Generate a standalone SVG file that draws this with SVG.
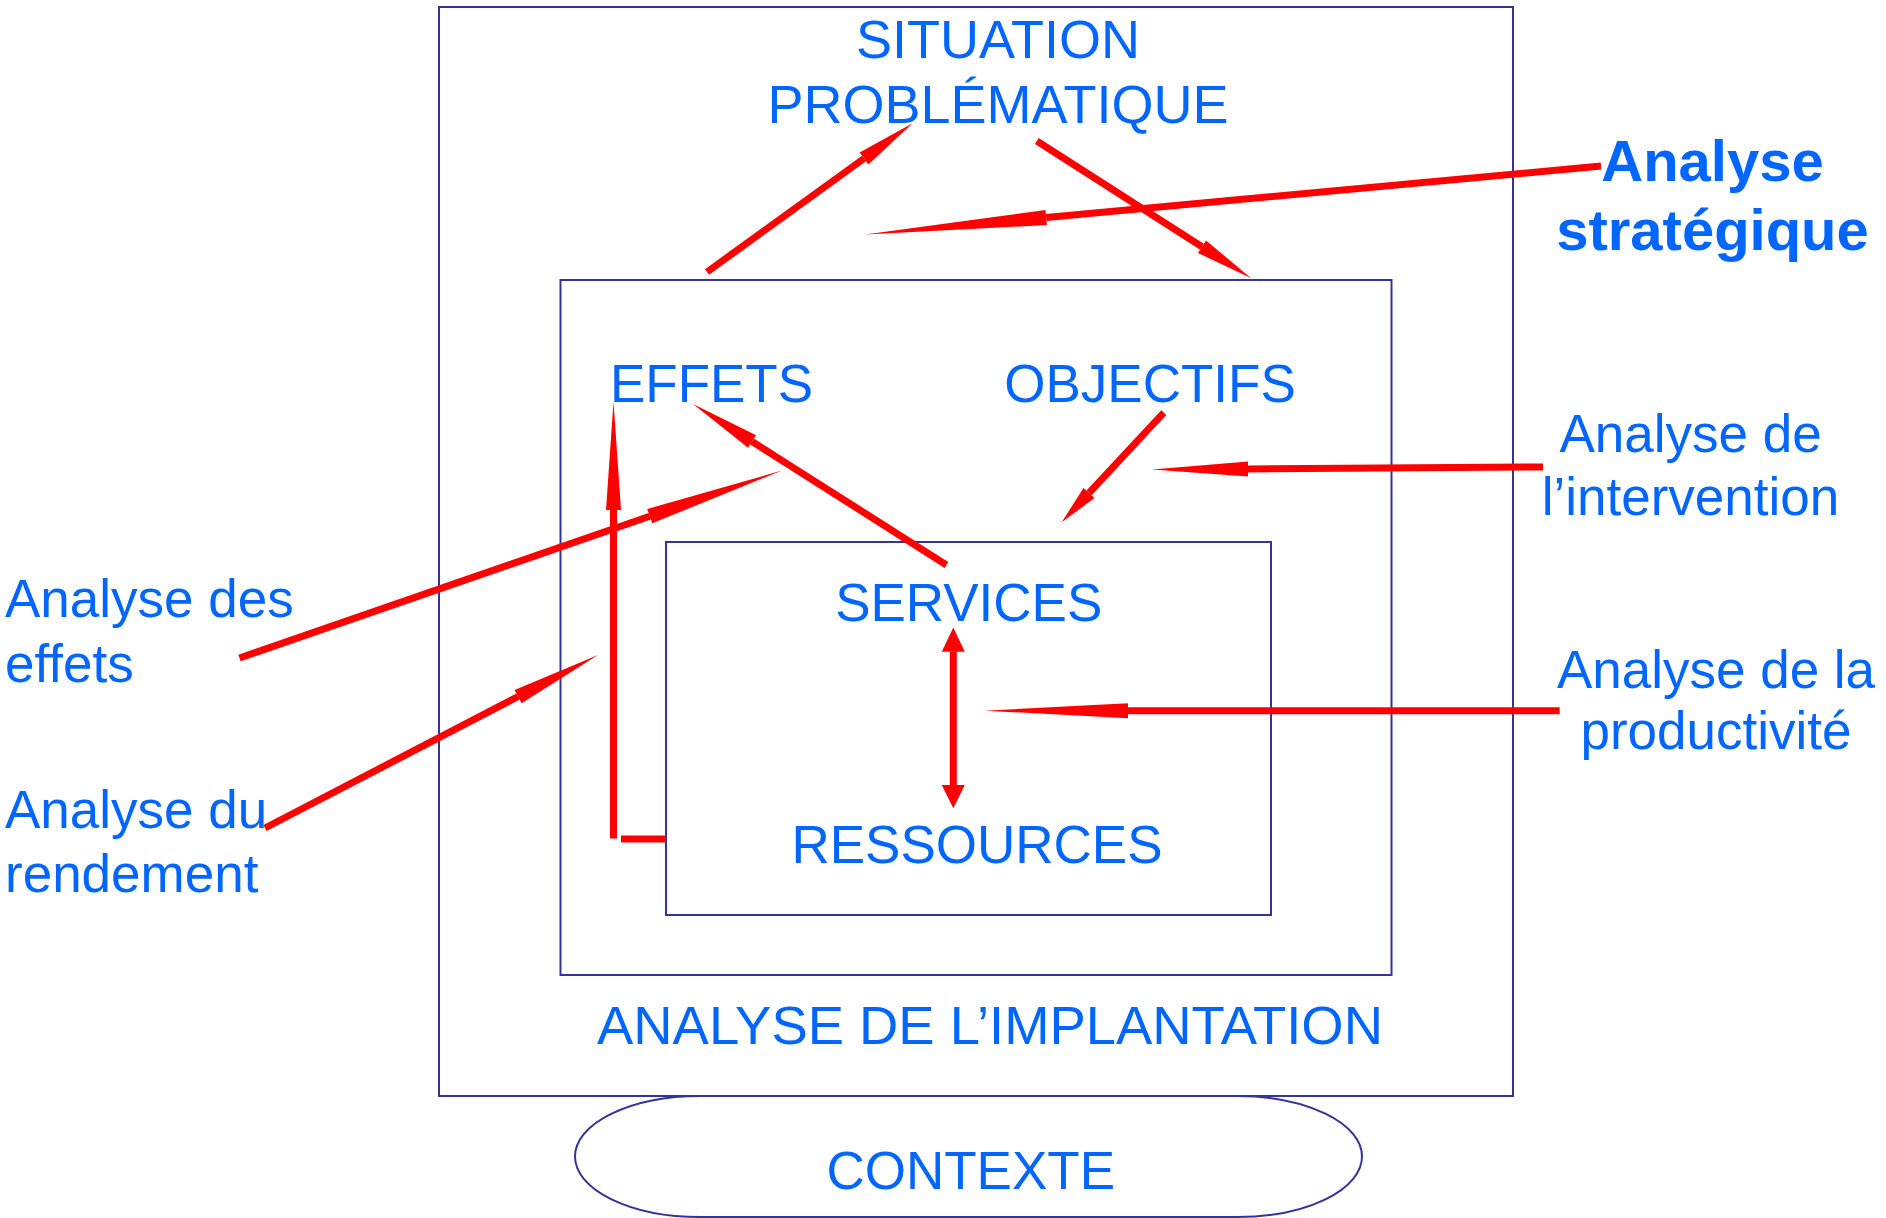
<svg xmlns="http://www.w3.org/2000/svg" width="1886" height="1218" viewBox="0 0 1886 1218">
  <style>
    .frame { fill: none; stroke: #333399; stroke-width: 2; }
    .lbl { font-family: "Liberation Sans", Arial, sans-serif; font-size: 53px; fill: #0066FF; }
    .mid { text-anchor: middle; }
    .big { font-size: 54px; }
    .bold { font-weight: bold; font-size: 58px; }
    .wire { stroke: #FF0000; stroke-width: 7; fill: none; }
    .head { fill: #FF0000; stroke: none; }
  </style>
  <rect width="1886" height="1218" fill="#FFFFFF"/>

  <!-- nested frames -->
  <g id="situation">
    <rect class="frame" x="439" y="7" width="1074" height="1089"/>
    <text class="lbl mid big" x="998" y="58">SITUATION</text>
    <text class="lbl mid big" x="998" y="122.5">PROBLÉMATIQUE</text>
  </g>
  <g id="implantation">
    <rect class="frame" x="560.5" y="280" width="831" height="695"/>
    <text class="lbl mid" x="990" y="1044" style="font-size:54.4px">ANALYSE DE L’IMPLANTATION</text>
  </g>
  <g id="services-ressources">
    <rect class="frame" x="666" y="542" width="605" height="373"/>
    <text class="lbl mid" x="968.7" y="621">SERVICES</text>
    <text class="lbl mid" x="977" y="862.5">RESSOURCES</text>
  </g>
  <g id="effets">
    <text class="lbl mid" x="711.5" y="402">EFFETS</text>
  </g>
  <g id="objectifs">
    <text class="lbl mid" x="1150" y="402">OBJECTIFS</text>
  </g>
  <g id="contexte">
    <rect class="frame" x="575" y="1096" width="787" height="121" rx="125" ry="60.5"/>
    <text class="lbl mid" x="970.7" y="1189">CONTEXTE</text>
  </g>

  <!-- side labels -->
  <g id="analyse-strategique">
    <text class="lbl mid bold" x="1712.5" y="180.5">Analyse</text>
    <text class="lbl mid bold" x="1712.5" y="250">stratégique</text>
  </g>
  <g id="analyse-intervention">
    <text class="lbl mid" x="1690.5" y="451.7">Analyse de</text>
    <text class="lbl mid" x="1690.5" y="515">l’intervention</text>
  </g>
  <g id="analyse-productivite">
    <text class="lbl mid" x="1716" y="688.3">Analyse de la</text>
    <text class="lbl mid" x="1716" y="749">productivité</text>
  </g>
  <g id="analyse-effets">
    <text class="lbl" x="5" y="617">Analyse des</text>
    <text class="lbl" x="5" y="681.5">effets</text>
  </g>
  <g id="analyse-rendement">
    <text class="lbl" x="5" y="828">Analyse du</text>
    <text class="lbl" x="5" y="891.7">rendement</text>
  </g>

  <!-- connectors: shafts end at the base of each head -->
  <g id="connectors">
    <!-- implantation -> situation -->
    <line class="wire" x1="707" y1="272" x2="864" y2="158.5"/>
    <polygon class="head" points="912.6,123.3 868.4,164.6 859.6,152.4"/>
    <!-- situation -> objectifs frame -->
    <line class="wire" x1="1036.8" y1="141" x2="1202" y2="246.7"/>
    <polygon class="head" points="1250.8,278 1198,253 1206,240.4"/>
    <!-- analyse stratégique -->
    <line class="wire" x1="1601" y1="166" x2="1046.2" y2="217.6"/>
    <polygon class="head" points="865,234.5 1045.5,210.1 1046.9,225.1"/>
    <!-- objectifs -> services -->
    <line class="wire" x1="1163.8" y1="412.7" x2="1089" y2="493"/>
    <polygon class="head" points="1061.7,522.3 1083.5,487.9 1094.5,498.1"/>
    <!-- services -> effets -->
    <line class="wire" x1="946.4" y1="565" x2="752.1" y2="441.5"/>
    <polygon class="head" points="693,404 756.1,435.2 748.1,447.8"/>
    <!-- analyse des effets -->
    <line class="wire" x1="239.5" y1="658" x2="649.7" y2="516.2"/>
    <polygon class="head" points="782,470.5 652.2,523.3 647.2,509.1"/>
    <!-- analyse du rendement -->
    <line class="wire" x1="265" y1="828" x2="518.1" y2="696.5"/>
    <polygon class="head" points="598,655 521.6,703.2 514.6,689.9"/>
    <!-- ressources -> effets -->
    <line class="wire" x1="613.5" y1="838.5" x2="613.5" y2="510"/>
    <polygon class="head" points="613.5,401.7 621,510 606,510"/>
    <line class="wire" x1="621" y1="839" x2="666" y2="839"/>
    <!-- analyse de l'intervention -->
    <line class="wire" x1="1543" y1="467" x2="1248" y2="468.9"/>
    <polygon class="head" points="1152,469.5 1248,461.4 1248,476.4"/>
    <!-- analyse de la productivité -->
    <line class="wire" x1="1559.7" y1="710.7" x2="1128" y2="710.7"/>
    <polygon class="head" points="985,710.7 1128,703.2 1128,718.2"/>
    <!-- services <-> ressources -->
    <line class="wire" x1="953.3" y1="651.7" x2="953.3" y2="785"/>
    <polygon class="head" points="953.3,627.5 964.8,651.7 941.8,651.7"/>
    <polygon class="head" points="953.3,808.3 964.8,785 941.8,785"/>
  </g>
</svg>
